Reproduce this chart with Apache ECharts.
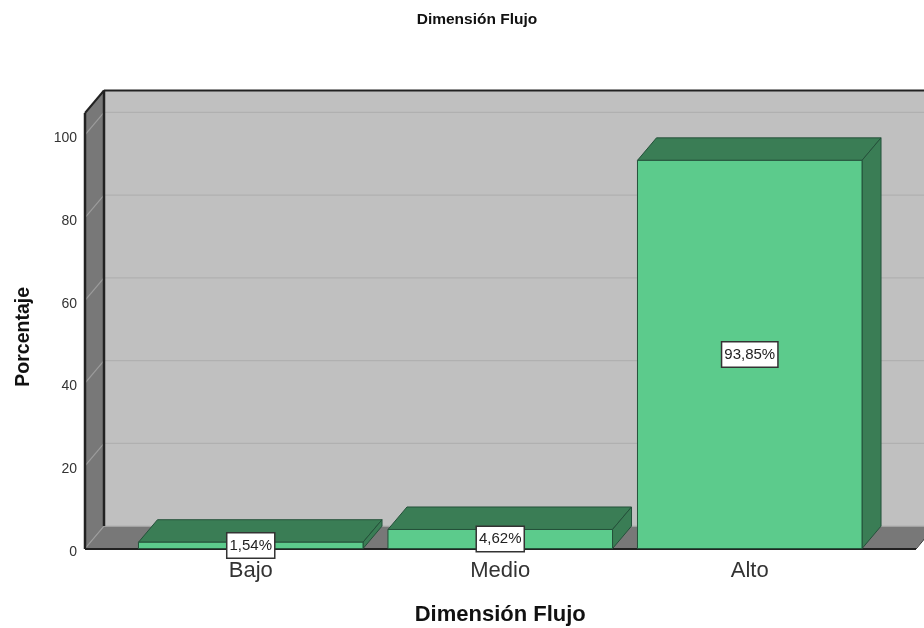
<!DOCTYPE html>
<html>
<head>
<meta charset="utf-8">
<title>Dimensión Flujo</title>
<script src="https://cdn.jsdelivr.net/npm/echarts@6/dist/echarts.min.js"></script>
<style>
  html, body { margin: 0; padding: 0; background: #fff; }
  #chart { width: 924px; height: 628px; }
</style>
</head>
<body>
<div id="chart"></div>
<script>
var categories = ["Bajo", "Medio", "Alto"];
var percentages = [1.54, 4.62, 93.85];
var yTicks = [0, 20, 40, 60, 80, 100];

// 3d look of the spss chart
var FONT = '"Liberation Sans", Arial, sans-serif';
var DEPTH_X = 19;
var DEPTH_Y = 22.5;
var WALL_LEFT = 85;
var WALL_RIGHT = 916;
var Y_MAX = 105.3;

function poly(points, fill, stroke, lineWidth) {
  return {
    type: "polygon",
    shape: { points: points },
    style: { fill: fill, stroke: stroke || null, lineWidth: lineWidth || 0, lineJoin: "round" },
  };
}

function line(x1, y1, x2, y2, color, width) {
  return {
    type: "line",
    shape: { x1: x1, y1: y1, x2: x2, y2: y2 },
    style: { stroke: color, lineWidth: width },
  };
}

function renderWalls(params, api) {
  var y0 = api.coord([0, 0])[1];
  var yTop = api.coord([0, Y_MAX])[1];
  var l = WALL_LEFT;
  var r = WALL_RIGHT;
  var children = [
    // back wall
    poly([[l + DEPTH_X, yTop - DEPTH_Y], [r + DEPTH_X, yTop - DEPTH_Y], [r + DEPTH_X, y0 - DEPTH_Y], [l + DEPTH_X, y0 - DEPTH_Y]], "#c0c0c0"),
    // floor
    poly([[l, y0], [r, y0], [r + DEPTH_X, y0 - DEPTH_Y], [l + DEPTH_X, y0 - DEPTH_Y]], "#787878"),
    // left wall
    poly([[l, y0], [l, yTop], [l + DEPTH_X, yTop - DEPTH_Y], [l + DEPTH_X, y0 - DEPTH_Y]], "#787878"),
  ];
  yTicks.forEach(function (v) {
    var y = api.coord([0, v])[1];
    children.push(line(l + DEPTH_X, y - DEPTH_Y, r + DEPTH_X, y - DEPTH_Y, "#b0b0b0", 1.2));
    children.push(line(l, y, l + DEPTH_X, y - DEPTH_Y, "#9c9c9c", 1.2));
  });
  children.push(line(l, y0 + 0.5, l, yTop, "#222", 2.5));
  children.push(line(l + DEPTH_X, y0 - DEPTH_Y, l + DEPTH_X, yTop - DEPTH_Y, "#222", 2.5));
  children.push(line(l, yTop, l + DEPTH_X, yTop - DEPTH_Y, "#222", 2));
  children.push(line(l + DEPTH_X, yTop - DEPTH_Y, r + DEPTH_X, yTop - DEPTH_Y, "#222", 2));
  children.push(line(l, y0 + 0.5, r, y0 + 0.5, "#222", 2));
  children.push(line(r, y0 + 0.5, r + DEPTH_X, y0 - DEPTH_Y, "#333", 1));
  return { type: "group", children: children };
}

function renderBar(params, api) {
  var top = api.coord([api.value(0), api.value(1)]);
  var y0 = api.coord([api.value(0), 0])[1];
  var w = api.size([1, 0])[0] * 0.9;
  var x1 = top[0] - w / 2;
  var x2 = top[0] + w / 2;
  var y1 = top[1];
  var edge = "#24513a";
  var pct = api.value(1).toFixed(2).replace(".", ",") + "%";
  return {
    type: "group",
    children: [
      poly([[x1, y1], [x2, y1], [x2 + DEPTH_X, y1 - DEPTH_Y], [x1 + DEPTH_X, y1 - DEPTH_Y]], "#3a7d55", edge, 1),
      poly([[x2, y1], [x2 + DEPTH_X, y1 - DEPTH_Y], [x2 + DEPTH_X, y0 - DEPTH_Y], [x2, y0]], "#3a7d55", edge, 1),
      poly([[x1, y1], [x2, y1], [x2, y0], [x1, y0]], "#5ccb8c", edge, 1),
      {
        type: "text",
        x: top[0],
        y: (y1 + y0) / 2,
        z2: 10,
        style: {
          text: pct,
          font: "15px " + FONT,
          fill: "#222",
          align: "center",
          verticalAlign: "middle",
          backgroundColor: "#fff",
          borderColor: "#333",
          borderWidth: 1.5,
          padding: [5, 2, 4, 2],
        },
      },
    ],
  };
}

var chart = echarts.init(document.getElementById("chart"), null, { renderer: "canvas" });

chart.setOption({
  animation: false,
  backgroundColor: "#fff",
  title: {
    text: "Dimensión Flujo",
    left: 477,
    top: 12,
    padding: 0,
    textAlign: "center",
    textStyle: { fontFamily: FONT, fontSize: 15.5, fontWeight: "bold", color: "#111" },
  },
  grid: { left: 126, top: 113, width: 748.5, height: 435.6, containLabel: false, outerBoundsMode: "none" },
  xAxis: {
    type: "category",
    data: categories,
    name: "Dimensión Flujo",
    nameLocation: "middle",
    nameGap: 55,
    nameTextStyle: { fontFamily: FONT, fontSize: 22, fontWeight: "bold", color: "#111" },
    axisLine: { show: false },
    axisTick: { show: false },
    axisLabel: { fontFamily: FONT, fontSize: 22, color: "#333", margin: 11 },
  },
  yAxis: {
    type: "value",
    min: 0,
    max: Y_MAX,
    offset: 41,
    name: "Porcentaje",
    nameLocation: "middle",
    nameGap: 51,
    nameTextStyle: {
      fontFamily: FONT,
      fontSize: 19.5,
      fontWeight: "bold",
      color: "#111",
      padding: [0, 12, 0, 0],
    },
    axisLine: { show: false },
    axisTick: { show: false },
    splitLine: { show: false },
    axisLabel: {
      customValues: yTicks,
      fontFamily: FONT,
      fontSize: 14,
      color: "#333",
      margin: 8,
      verticalAlign: "top",
      lineHeight: 7,
    },
  },
  series: [
    {
      type: "custom",
      name: "walls",
      silent: true,
      z: 1,
      clip: false,
      data: [[0, 0]],
      renderItem: renderWalls,
    },
    {
      type: "custom",
      name: "Porcentaje",
      z: 2,
      clip: false,
      encode: { x: 0, y: 1 },
      data: percentages.map(function (v, i) {
        return [i, v];
      }),
      renderItem: renderBar,
    },
  ],
});

window.addEventListener("resize", function () {
  chart.resize();
});
</script>
</body>
</html>
